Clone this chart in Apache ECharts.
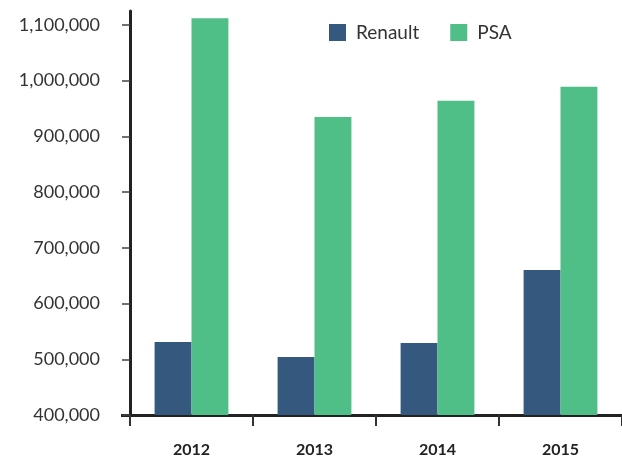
<!DOCTYPE html>
<html>
<head>
<meta charset="utf-8">
<script src="https://cdn.jsdelivr.net/npm/echarts@6/dist/echarts.min.js"></script>
<style>
html, body { margin: 0; padding: 0; background: #fff; }
#bar { width: 622px; height: 458px; }
</style>
</head>
<body>
<div id="bar"></div>
<script>
// data
var years = ['2012', '2013', '2014', '2015'];
var renault = [531000, 504000, 529000, 660000];
var psa = [1112000, 935000, 964000, 989000];

var myChart = echarts.init(document.getElementById('bar'));

var option = {
    animation: false,
    textStyle: { fontFamily: 'Lato' },
    legend: {
        top: 18,
        left: 324,
        itemWidth: 17,
        itemHeight: 17,
        itemGap: 31,
        icon: 'rect',
        textStyle: { fontSize: 19, color: '#333', fontFamily: 'Lato', padding: [0, 0, 0, 5] },
        data: ['Renault', 'PSA']
    },
    grid: {
        top: 11,
        left: 130,
        right: -2,
        bottom: 42.5,
        containLabel: false
    },
    // short piece of the x axis left of the y axis, as in the source
    graphic: [{
        type: 'line',
        shape: { x1: 121, y1: 415.5, x2: 131, y2: 415.5 },
        style: { stroke: '#222', lineWidth: 3 }
    }],
    xAxis: [{
        type: 'category',
        data: years,
        axisLine: { show: true, lineStyle: { color: '#222', width: 3 } },
        axisTick: { show: true, length: 11, lineStyle: { color: '#333', width: 2 } },
        axisLabel: { margin: 27, fontSize: 16, fontWeight: 'bold', color: '#222' }
    }],
    yAxis: [{
        type: 'value',
        min: 400000,
        max: 1125000,
        interval: 100000,
        splitLine: { show: false },
        axisLine: { show: true, lineStyle: { color: '#222', width: 3 } },
        axisTick: { show: true, length: 8, lineStyle: { color: '#444', width: 1.5 } },
        axisLabel: {
            margin: 30,
            fontSize: 18,
            color: '#333',
            showMaxLabel: false,
            formatter: function (v) { return v.toLocaleString('en-US'); }
        }
    }],
    series: [{
        name: 'Renault',
        type: 'bar',
        barWidth: '30%',
        barGap: '0%',
        color: '#35597e',
        data: renault
    }, {
        name: 'PSA',
        type: 'bar',
        barWidth: '30%',
        color: '#50be87',
        data: psa
    }]
};

myChart.setOption(option);

window.addEventListener('resize', function () {
    myChart.resize();
});
</script>
</body>
</html>
